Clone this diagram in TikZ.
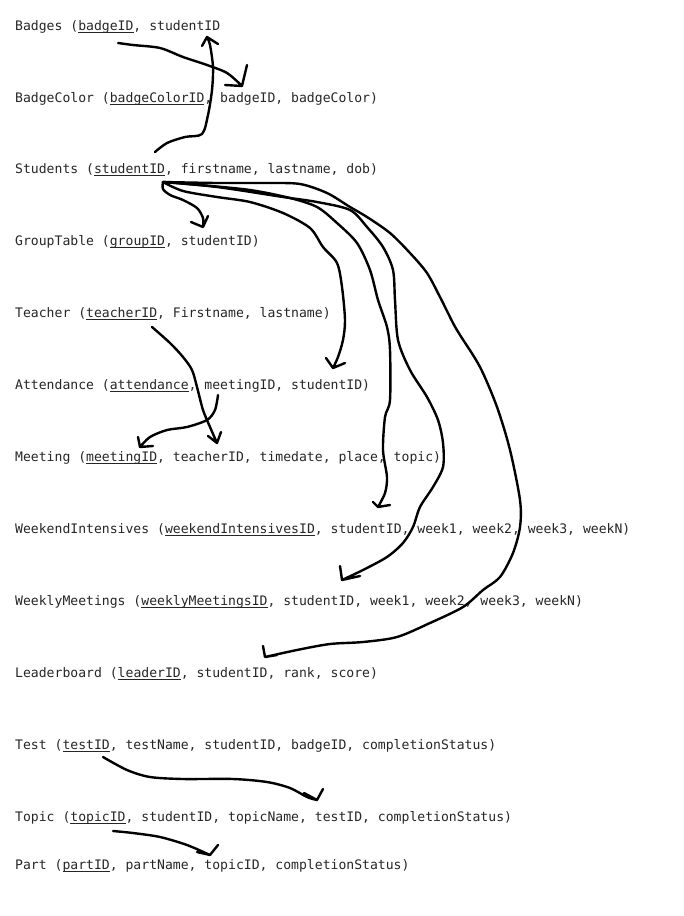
\documentclass[tikz,border=0pt]{standalone}
\usepackage{fontspec}
\setmonofont{DejaVu Sans Mono}
\newcommand\pkey[1]{\setbox0\hbox{#1}\rlap{\rule[-2.4pt]{\wd0}{0.8pt}}\box0}
\begin{document}
\begin{tikzpicture}[x=1pt,y=-1pt,
  relation/.style={anchor=base west,inner sep=0pt,text=black!85,
    font=\ttfamily\fontsize{13.1pt}{15pt}\selectfont},
  link/.style={draw=black,line width=2.4pt,line cap=round,line join=round}]
\useasboundingbox[fill=white] (0,0) rectangle (683,916);

% relations
\node[relation] (badges)     at (15,30)  {Badges (\pkey{badgeID}, studentID};
\node[relation] (badgecolor) at (15,102) {BadgeColor (\pkey{badgeColorID}, badgeID, badgeColor)};
\node[relation] (students)   at (15,173) {Students (\pkey{studentID}, firstname, lastname, dob)};
\node[relation] (group)      at (15,245) {GroupTable (\pkey{groupID}, studentID)};
\node[relation] (teacher)    at (15,317) {Teacher (\pkey{teacherID}, Firstname, lastname)};
\node[relation] (attendance) at (15,389) {Attendance (\pkey{attendance}, meetingID, studentID)};
\node[relation] (meeting)    at (15,461) {Meeting (\pkey{meetingID}, teacherID, timedate, place, topic)};
\node[relation] (weekend)    at (15,533) {WeekendIntensives (\pkey{weekendIntensivesID}, studentID, week1, week2, week3, weekN)};
\node[relation] (weekly)     at (15,605) {WeeklyMeetings (\pkey{weeklyMeetingsID}, studentID, week1, week2, week3, weekN)};
\node[relation] (leader)     at (15,677) {Leaderboard (\pkey{leaderID}, studentID, rank, score)};
\node[relation] (test)       at (15,749) {Test (\pkey{testID}, testName, studentID, badgeID, completionStatus)};
\node[relation] (topic)      at (15,821) {Topic (\pkey{topicID}, studentID, topicName, testID, completionStatus)};
\node[relation] (part)       at (15,869) {Part (\pkey{partID}, partName, topicID, completionStatus)};

% connector ends
\coordinate (badgeKey)   at (118,43);
\coordinate (badgeFK)    at (242,86);
\coordinate (stuUp)      at (155,152);
\coordinate (badgeStu)   at (207,37);
\coordinate (stuKey)     at (163,182);
\coordinate (groupStu)   at (203,227);
\coordinate (attStu)     at (333,368);
\coordinate (wkndStu)    at (378,507);
\coordinate (wklyStu)    at (342,580);
\coordinate (leadStu)    at (265,657);
\coordinate (teachKey)   at (152,327);
\coordinate (meetTeach)  at (217,443);
\coordinate (attMeet)    at (218,395);
\coordinate (meetKey)    at (140,447);
\coordinate (testKey)    at (103,757);
\coordinate (topicTest)  at (317,800);
\coordinate (topicKey)   at (113,831);
\coordinate (partTopic)  at (210,855);

% Badges -> BadgeColor
\draw[link] plot[smooth] coordinates {(badgeKey) (133,45) (160,48) (183,57) (207,65) (227,73) (badgeFK)}
  (225,85) -- (badgeFK) -- (247,65);
% Students -> Badges
\draw[link] plot[smooth] coordinates {(stuUp) (167,143) (185,137) (202,134) (208,115) (212,90) (213,67) (210,45) (badgeStu)}
  (202,46) -- (badgeStu) -- (218,44);
% Students -> GroupTable
\draw[link] plot[smooth] coordinates {(stuKey) (163,189) (170,195) (183,200) (197,208) (203,218) (groupStu)}
  (191,222) -- (groupStu) -- (208,216);
% Students -> Attendance
\draw[link] plot[smooth] coordinates {(stuKey) (183,191) (217,197) (250,202) (283,213) (310,228) (323,247) (337,263) (342,287) (345,320) (343,340) (338,357) (attStu)}
  (326,358) -- (attStu) -- (345,363);
% Students -> WeekendIntensives
\draw[link] plot[smooth] coordinates {(stuKey) (200,185) (250,190) (290,198) (317,207) (337,223) (357,243) (370,270) (378,300) (387,327) (390,350) (390,400) (385,417) (383,450) (387,477) (385,493) (wkndStu)}
  (373,502) -- (wkndStu) -- (390,505);
% Students -> WeeklyMeetings
\draw[link] plot[smooth] coordinates {(stuKey) (217,187) (283,197) (317,202) (350,210) (367,227) (383,247) (393,270) (395,300) (398,340) (410,370) (427,397) (438,420) (443,443) (443,467) (433,487) (420,507) (413,527) (403,543) (387,557) (363,570) (wklyStu)}
  (340,566) -- (wklyStu) -- (360,576);
% Students -> Leaderboard
\draw[link] plot[smooth] coordinates {(stuKey) (217,183) (267,183) (300,184) (327,193) (350,207) (367,217) (390,233) (410,253) (427,273) (440,297) (453,323) (460,335) (480,367) (497,407) (510,450) (520,500) (520,527) (513,553) (500,577) (483,590) (463,607) (430,623) (397,637) (363,642) (330,644) (297,650) (leadStu)}
  (263,646) -- (leadStu) -- (277,655);
% Teacher -> Meeting
\draw[link] plot[smooth] coordinates {(teachKey) (170,343) (183,357) (192,370) (197,387) (203,410) (210,427) (meetTeach)}
  (208,436) -- (meetTeach) -- (221,432);
% Attendance -> Meeting
\draw[link] plot[smooth] coordinates {(attMeet) (215,410) (207,420) (187,427) (167,430) (150,437) (meetKey)}
  (138,437) -- (meetKey) -- (153,446);
% Test -> Topic
\draw[link] plot[smooth] coordinates {(testKey) (127,770) (150,777) (183,779) (233,779) (267,782) (290,788) (307,797) (topicTest)}
  (304,793) -- (topicTest) -- (323,789);
% Topic -> Part
\draw[link] plot[smooth] coordinates {(topicKey) (133,833) (160,837) (187,845) (partTopic)}
  (197,852) -- (partTopic) -- (218,845);
\end{tikzpicture}
\end{document}
